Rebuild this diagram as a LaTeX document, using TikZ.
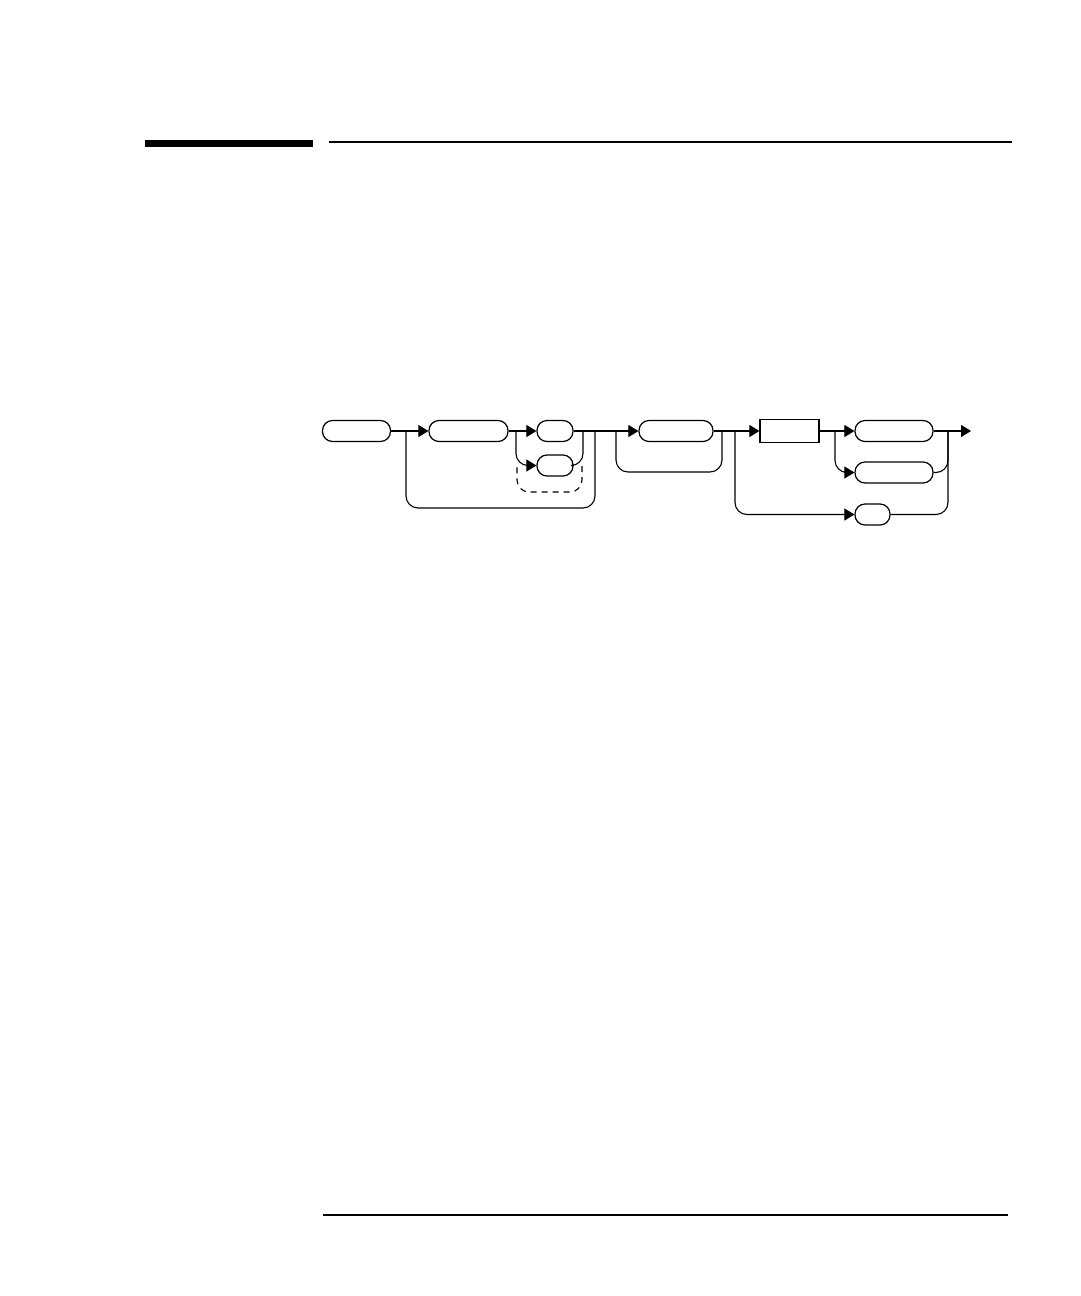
\documentclass[tikz,border=0pt]{standalone}
\usetikzlibrary{arrows.meta}
\begin{document}
\begin{tikzpicture}[x=1pt,y=-1pt,
  term/.style={draw, line width=1.2pt, rounded corners=10pt, minimum height=21pt, inner sep=0pt},
  rectbox/.style={draw, line width=1.2pt, minimum height=23pt, inner sep=0pt},
  conn/.style={line width=1.1pt, rounded corners=12pt},
  arr/.style={-{Triangle[length=10pt,width=12pt]}},
  dash line/.style={line width=1.1pt, rounded corners=12pt, dash pattern=on 6pt off 5pt}
]
\useasboundingbox (0,0) rectangle (1080,1296);
% header and footer rules
\fill (145,139.5) rectangle (313,146.5);
\coordinate (hl) at (329,142); \coordinate (hr) at (1012,142);
\draw[line width=1.2pt] (hl) -- (hr);
\coordinate (fl) at (323,1215); \coordinate (fr) at (1008,1215);
\draw[line width=1.2pt] (fl) -- (fr);
% nodes
\node[term, minimum width=68pt] (b1) at (356.5,431) {};
\node[term, minimum width=79pt] (b2) at (468.5,431) {};
\node[term, minimum width=36pt] (b3) at (555,431) {};
\node[term, minimum width=36pt] (b4) at (555,465.5) {};
\node[term, minimum width=74pt] (b5) at (676,431) {};
\node[rectbox, minimum width=59pt] (r1) at (789.5,431) {};
\node[term, minimum width=78pt] (b6) at (894,431) {};
\node[term, minimum width=78pt] (b7) at (894,472.5) {};
\node[term, minimum width=35pt] (b8) at (872.5,514.5) {};
% junctions
\coordinate (j1) at (406,431);
\coordinate (j2) at (595,431);
\coordinate (lo1) at (500,508);
\coordinate (j3) at (516,431);
\coordinate (j4) at (583,431);
\coordinate (d1) at (582,466);
\coordinate (d2) at (517,466);
\coordinate (dm) at (550,492);
\coordinate (j5) at (616,431);
\coordinate (j6) at (722,431);
\coordinate (lo2) at (670,472);
\coordinate (j7) at (735,431);
\coordinate (j8) at (835,431);
\coordinate (j9) at (948,431);
\coordinate (endp) at (971,431);
% connectors
\draw[conn, arr] (b1) -- (b2);
\draw[conn] (j1) |- (lo1) -| (j2);
\draw[conn, arr] (b2) -- (b3);
\draw[conn, arr] (j3) |- (b4.west);
\draw[conn] (b4.east) -| (j4);
\draw[dash line] (d1) |- (dm) -| (d2);
\draw[conn, arr] (b3) -- (b5);
\draw[conn] (j5) |- (lo2) -| (j6);
\draw[conn, arr] (b5) -- (r1);
\draw[conn, arr] (j7) |- (b8.west);
\draw[conn, arr] (r1) -- (b6);
\draw[conn, arr] (j8) |- (b7.west);
\draw[conn, arr] (b6) -- (endp);
\draw[conn] (b7.east) -| (j9);
\draw[conn] (b8.east) -| (j9);
\end{tikzpicture}
\end{document}
